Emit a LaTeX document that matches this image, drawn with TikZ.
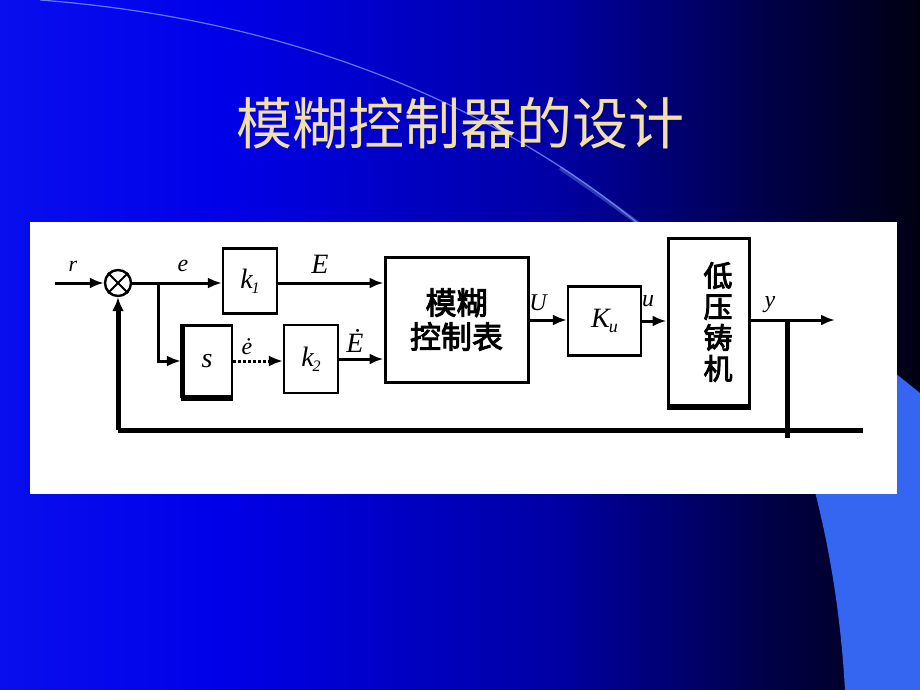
\documentclass[tikz,border=0pt]{standalone}
\usepackage{fontspec}
\setmainfont{Liberation Serif}
\newfontfamily\cjk{Noto Sans CJK SC}
\newfontfamily\cjkb[FakeBold=3]{Noto Sans CJK SC}
\usetikzlibrary{arrows.meta}
\definecolor{cA}{RGB}{8,14,238}
\definecolor{cB}{RGB}{0,0,232}
\definecolor{cC}{RGB}{0,0,165}
\definecolor{cD}{RGB}{0,0,70}
\definecolor{cE}{RGB}{0,0,18}
\definecolor{lightblue}{RGB}{52,102,242}
\definecolor{arcblue}{RGB}{130,160,255}
\definecolor{titlegold}{RGB}{242,224,170}
\pgfdeclarehorizontalshading{bgshade}{100bp}{color(0bp)=(cA); color(25bp)=(cA); color(37bp)=(cB); color(55bp)=(cC); color(67bp)=(cD); color(75bp)=(cE); color(100bp)=(cE)}
\begin{document}
\begin{tikzpicture}[x=1pt,y=-1pt,
  blk/.style={draw=black,line width=2.2pt,fill=white,inner sep=0pt},
  conn/.style={line width=3pt,-{Latex[length=14pt,width=11pt]}},
  lbl/.style={font=\fontsize{24}{26}\selectfont\itshape,inner sep=0pt},
  fb/.style={line width=5pt}]
\useasboundingbox (0,0) rectangle (920,690);
% background
\shade[shading=bgshade] (0,0) rectangle (920,690);
\fill[lightblue] (920,393) -- (860,345) -- (770,350) .. controls (815,470) and (838,570) .. (845,690) -- (920,690) -- cycle;
\draw[arcblue,line width=1.2pt,opacity=0.75] (40,0) .. controls (300,20) and (500,110) .. (640,225);
\draw[arcblue,line width=4pt,opacity=0.35] (560,168) .. controls (600,195) and (620,210) .. (642,226);
% title
\node (title) [text=titlegold,font=\cjk\fontsize{56}{62}\selectfont,inner sep=0pt] at (460,123) {模糊控制器的设计};
% panel
\fill[white] (30,222) rectangle (897,494);
% blocks
\node (sum) [draw=black,line width=2.4pt,circle,minimum size=26pt,inner sep=0pt,fill=white] at (118,283) {};
\draw[line width=2pt] (sum.north west) -- (sum.south east) (sum.north east) -- (sum.south west);
\node (k1) [blk,minimum width=54pt,minimum height=65pt] at (250,281) {};
\node (s) [blk,minimum width=50pt,minimum height=71pt] at (207,361) {};
\draw[line width=5pt] ([xshift=1.5pt]s.north west) -- ([xshift=1.5pt]s.south west);
\draw[line width=4pt] ([yshift=-1pt]s.south west) -- ([yshift=-1pt]s.south east);
\node (k2) [blk,minimum width=54pt,minimum height=68pt] at (311,359) {};
\node (fz) [blk,line width=3pt,minimum width=143pt,minimum height=125pt,align=center,font=\cjkb\fontsize{31}{34}\selectfont] at (456.5,319.5) {模糊\\控制表};
\node (ku) [blk,minimum width=73pt,minimum height=69pt] at (604.5,321) {};
\node (pl) [blk,line width=3pt,minimum width=81pt,minimum height=167pt] at (708.5,321.5) {};
\draw[line width=5pt] ([yshift=-1pt]pl.south west) -- ([yshift=-1pt]pl.south east);
\node (pltext) [align=center,font=\cjkb\fontsize{29}{31}\selectfont,inner sep=0pt] at (718,322) {低\\压\\铸\\机};
% block labels
\node (k1l) [lbl,font=\fontsize{28}{30}\selectfont\itshape] at (k1) {k\kern-1pt\raisebox{-5pt}{\fontsize{16}{16}\selectfont 1}};
\node (sl) [lbl,font=\fontsize{28}{30}\selectfont\itshape] at (s) {s};
\node (k2l) [lbl,font=\fontsize{28}{30}\selectfont\itshape] at (k2) {k\kern-1pt\raisebox{-5pt}{\fontsize{16}{16}\selectfont 2}};
\node (kul) [lbl,font=\fontsize{28}{30}\selectfont\itshape] at (ku) {K\kern-1pt\raisebox{-5pt}{\fontsize{18}{18}\selectfont u}};
% coordinates
\coordinate (in) at (55,283);
\coordinate (br) at (158,283);
\coordinate (tap) at (787,320);
\coordinate (out) at (835,320);
\coordinate (tapend) at (787,438);
\coordinate (fbR) at (863,430);
\coordinate (fbL) at (118,430);
% connectors
\draw[conn] (in) -- (sum.west);
\draw[conn] (sum.east) -- (sum.east -| k1.west);
\draw[conn] (k1.east |- sum.east) -- (sum.east -| fz.west);
\draw[conn] (br) |- (s.west);
\draw[conn,dotted] (s.east) -- (s.east -| k2.west);
\draw[conn] (k2.east) -- (k2.east -| fz.west);
\draw[conn] (fz.east |- 0,320) -- (ku.west |- 0,320);
\draw[conn] (ku.east) -- (ku.east -| pl.west);
\draw[conn] (pl.east |- tap) -- (out);
\draw[fb] (tap) -- (tapend);
\draw[fb] (fbR) -- (fbL);
\draw[fb,-{Latex[length=14pt,width=12pt]}] (fbL) -- (sum.south);
% signal labels
\node (lr) [lbl,font=\fontsize{22}{24}\selectfont\itshape] at (73,266) {r};
\node (le) [lbl] at (183,266) {e};
\node (lE) [lbl,font=\fontsize{28}{30}\selectfont\itshape] at (320,264) {E};
\node (ledot) [lbl] at (247,347) {\.{e}};
\node (lEdot) [lbl,font=\fontsize{28}{30}\selectfont\itshape] at (355,341) {\.{E}};
\node (lU) [lbl] at (538,303) {U};
\node (lu) [lbl] at (648,301) {u};
\node (ly) [lbl] at (770,305) {y};
\end{tikzpicture}
\end{document}
